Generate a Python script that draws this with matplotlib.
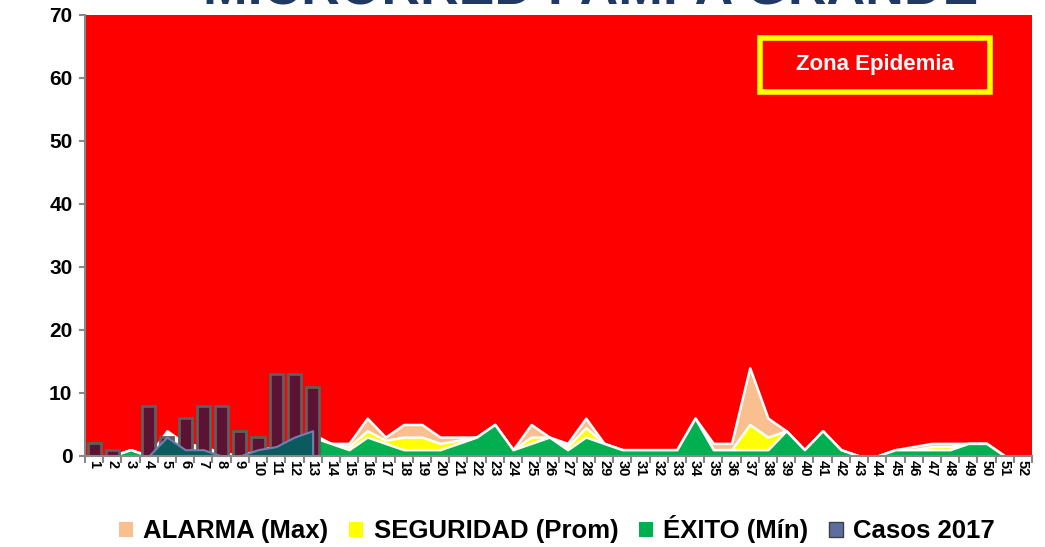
import numpy as np
import matplotlib
matplotlib.use("Agg")
from matplotlib import pyplot as plt
from matplotlib.patches import Patch, Rectangle

plt.rcParams['font.family'] = ['Liberation Sans', 'DejaVu Sans']

weeks = list(range(1, 53))

# canal endemico (values per week)
alarma_max = [0, 0, 1, 0, 4, 2, 1.5, 0.5, 0, 1, 1.5, 2.5, 3.5, 2, 2, 6, 3, 5, 5, 3,
              3, 3, 5, 1, 5, 3, 2, 6, 2, 1, 1, 1, 1, 6, 2, 2, 14, 6, 4, 1,
              4, 1, 0, 0, 1, 1.5, 2, 2, 2, 2, 0, 0]
seguridad_prom = [0, 0, 1, 0, 3.5, 1.5, 1, 0.5, 0, 1, 1, 2, 3, 2, 1.5, 4, 2.5, 3, 3, 2,
                  2.5, 3, 5, 1, 3, 3, 1.5, 4.5, 2, 1, 1, 1, 1, 6, 1, 1, 5, 3, 4, 1,
                  4, 1, 0, 0, 1, 1, 1.5, 1.5, 2, 2, 0, 0]
exito_min = [0, 0, 1, 0, 3, 1.5, 1, 0.5, 0, 1, 1, 2, 3, 2, 1, 3, 2, 1, 1, 1,
             2, 3, 5, 1, 2, 3, 1, 3, 2, 1, 1, 1, 1, 6, 1, 1, 1, 1, 4, 1,
             4, 1, 0, 0, 1, 1, 1, 1, 2, 2, 0, 0]
casos_2017 = [0, 0, 0, 0, 3, 1, 1, 0, 0, 1, 1.5, 3, 4]
casos_2018 = [2, 1, 0, 8, 3, 6, 8, 8, 4, 3, 13, 13, 11]
epidemia_top = 70

fig = plt.figure(figsize=(10.45, 5.47), dpi=100)
ax = fig.add_axes([0.0813, 0.1664, 0.9063, 0.8062])
ax.set_facecolor('#FF0000')

x = np.arange(len(weeks))
ax.fill_between(x, alarma_max, color='#F9BF8F', edgecolor='white', linewidth=1.8, zorder=2)
ax.fill_between(x, seguridad_prom, color='#FFFF00', edgecolor='white', linewidth=1.8, zorder=3)
ax.fill_between(x, exito_min, color='#00B050', edgecolor='white', linewidth=1.8, zorder=4)

xb = np.arange(len(casos_2018))
ax.bar(xb, casos_2018, width=0.72, color='#5C1233', edgecolor='#5F5F5F', linewidth=2, zorder=5)
xc = np.arange(len(casos_2017))
ax.fill_between(xc, casos_2017, color='#0B5A5E', edgecolor='#6F80B0', linewidth=1.5, zorder=6)

ax.set_xlim(-0.5, len(weeks) - 0.5)
ax.set_ylim(0, epidemia_top)
ax.set_yticks(range(0, 71, 10))
ax.set_yticklabels([str(v) for v in range(0, 71, 10)], fontsize=15, fontweight='bold')
ax.set_xticks(x)
ax.set_xticklabels([str(w) for w in weeks], rotation=270, fontsize=10.5, fontweight='bold')
ax.set_xticks(np.arange(-0.5, len(weeks)), minor=True)
ax.tick_params(axis='x', which='major', length=0, pad=3)
ax.tick_params(axis='x', which='minor', length=5, width=1.5, color='#888888')
ax.tick_params(axis='y', length=4, width=1.5, color='#888888', pad=5)
for side in ['top', 'right']:
    ax.spines[side].set_visible(False)
for side in ['left', 'bottom']:
    ax.spines[side].set_color('#888888')
    ax.spines[side].set_linewidth(1.5)
ax.spines['bottom'].set_zorder(7)

# zona epidemia label
ax.add_patch(Rectangle((0.713, 0.826), 0.243, 0.122, transform=ax.transAxes,
                       fill=False, edgecolor='#FFFF00', linewidth=4, zorder=8))
ax.text(0.834, 0.887, 'Zona Epidemia', transform=ax.transAxes, color='white',
        fontsize=16, fontweight='bold', ha='center', va='center', zorder=9)

fig.text(0.565, 0.991, 'MICRORRED PAMPA GRANDE', color='#1F3864', fontsize=38.5,
         fontweight='bold', ha='center', va='baseline')

handles = [Patch(facecolor='#F9BF8F', edgecolor='none', label='ALARMA (Max)'),
           Patch(facecolor='#FFFF00', edgecolor='none', label='SEGURIDAD (Prom)'),
           Patch(facecolor='#00B050', edgecolor='none', label='ÉXITO (Mín)'),
           Patch(facecolor='#5B6F9F', edgecolor='#404040', label='Casos 2017')]
fig.legend(handles=handles, loc='center', bbox_to_anchor=(0.533, 0.032), ncol=4,
           frameon=False, prop={'weight': 'bold', 'size': 18.5}, handlelength=0.55,
           handleheight=0.55, handletextpad=0.4, columnspacing=0.8)

fig.savefig('out.png', dpi=100)
